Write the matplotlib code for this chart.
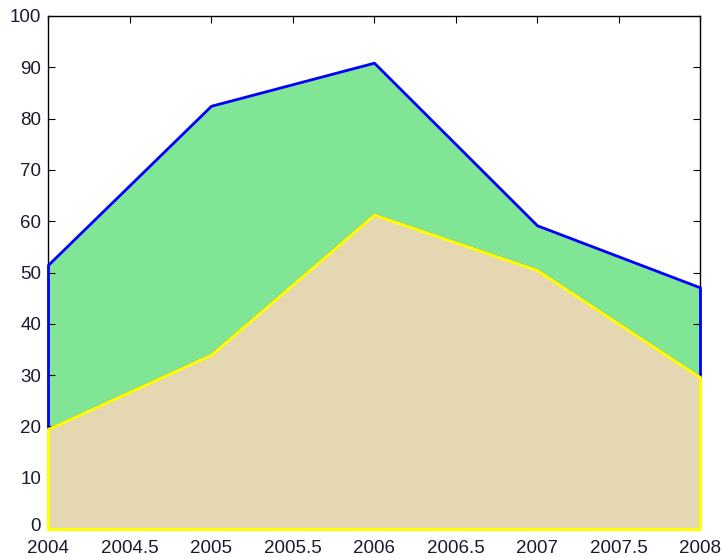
import matplotlib
matplotlib.use('Agg')
import matplotlib.pyplot as plt
import matplotlib.transforms as mtransforms
import numpy as np

# yearly values, lower series and the amount stacked on top of it
years = [2004, 2005, 2006, 2007, 2008]
lower = [19.5, 34, 61.3, 50.5, 29.6]
upper_add = [32, 48.5, 29.6, 8.7, 17.5]

xticks = [2004, 2004.5, 2005, 2005.5, 2006, 2006.5, 2007, 2007.5, 2008]
xlabels = ['2004', '2004.5', '2005', '2005.5', '2006', '2006.5', '2007', '2007.5', '2008']
yticks = list(range(0, 101, 10))

plt.rcParams['font.family'] = ['Liberation Sans', 'DejaVu Sans']

fig = plt.figure(figsize=(7.24, 5.58), dpi=100)
ax = fig.add_axes([48 / 724, 29 / 558, 652 / 724, 513 / 558])

top = np.array(lower) + np.array(upper_add)
# green band first, then the tan area over it so the yellow edge stays on top
ax.fill_between(years, lower, top, facecolor='#80e696', edgecolor='#0000ff',
                linewidth=2.0, zorder=1, clip_on=False)
ax.fill_between(years, 0, lower, facecolor='#e4d7b2', edgecolor='#ffff00',
                linewidth=2.2, zorder=2, clip_on=False)

ax.set_xlim(2004, 2008)
ax.set_ylim(0, 100)
ax.set_xticks(xticks)
ax.set_xticklabels(xlabels)
ax.set_yticks(yticks)
ax.tick_params(direction='in', length=5, width=0.8, top=True, right=True,
               labelsize=13.5, colors='black', labelcolor='#1a1a30')
ax.tick_params(axis='x', pad=8)
ax.tick_params(axis='y', pad=5)
for s in ax.spines.values():
    s.set_linewidth(1.0)
    s.set_zorder(0.5)

# nudge the "0" label up a little so it clears the "2004" below it
lab0 = ax.yaxis.get_major_ticks()[0].label1
lab0.set_transform(lab0.get_transform() +
                   mtransforms.ScaledTranslation(0, 3 / 72, fig.dpi_scale_trans))

fig.savefig('out.png', dpi=100)
